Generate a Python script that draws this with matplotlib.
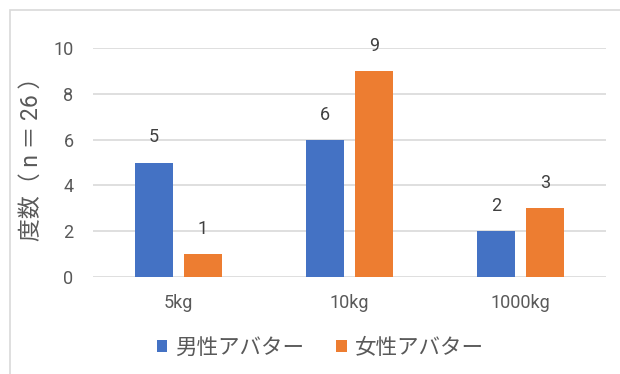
import matplotlib
matplotlib.use("Agg")
import matplotlib.pyplot as plt
from matplotlib.patches import Rectangle
import numpy as np

plt.rcParams['font.family'] = ['Roboto', 'Noto Sans CJK JP', 'DejaVu Sans']

categories = ['5kg', '10kg', '1000kg']
male = [5, 6, 2]
female = [1, 9, 3]
series_names = ['男性アバター', '女性アバター']
blue = '#4472C4'
orange = '#ED7D31'

fig = plt.figure(figsize=(6.2, 3.74), dpi=100)
ax = fig.add_axes([93/620, 1-277/374, 513/620, 229/374])

x = np.arange(len(categories))
w = 0.225
gap = 0.03
b1 = ax.bar(x - w/2 - gap, male, w, color=blue, label=series_names[0])
b2 = ax.bar(x + w/2 + gap, female, w, color=orange, label=series_names[1])

for bars in (b1, b2):
    for r in bars:
        ax.text(r.get_x() + r.get_width()/2, r.get_height() + 0.7,
                str(int(r.get_height())), ha='center', va='bottom',
                fontsize=13, color='#404040')

ax.set_xlim(-0.5, 2.5)
ax.set_ylim(0, 10)
ax.set_yticks([0, 2, 4, 6, 8, 10])
ax.set_xticks(x)
ax.set_xticklabels(categories)
ax.tick_params(axis='both', length=0, labelsize=13, colors='#595959')
ax.tick_params(axis='y', pad=14)
ax.tick_params(axis='x', pad=12)
ax.grid(axis='y', color='#D9D9D9', linewidth=1.2)
ax.set_axisbelow(True)
for s in ax.spines.values():
    s.set_visible(False)
ax.set_ylabel('度数（ n ＝ 26 ）', fontsize=16.5, color='#595959')
ax.yaxis.set_label_coords(-0.098, 0.54)

fig.legend(handles=[b1, b2], labels=series_names, loc='center',
           bbox_to_anchor=(320/620, 1-348/374), ncol=2, frameon=False,
           fontsize=15.5, labelcolor='#595959', handlelength=0.5,
           handleheight=0.5, handletextpad=0.35, columnspacing=1.5)

fig.patches.append(Rectangle((9.5/620, -0.1), 1.2, 1.1 - 10.5/374,
                             transform=fig.transFigure, fill=False,
                             edgecolor='#D9D9D9', linewidth=1.2))

fig.savefig('out.png', dpi=100)
